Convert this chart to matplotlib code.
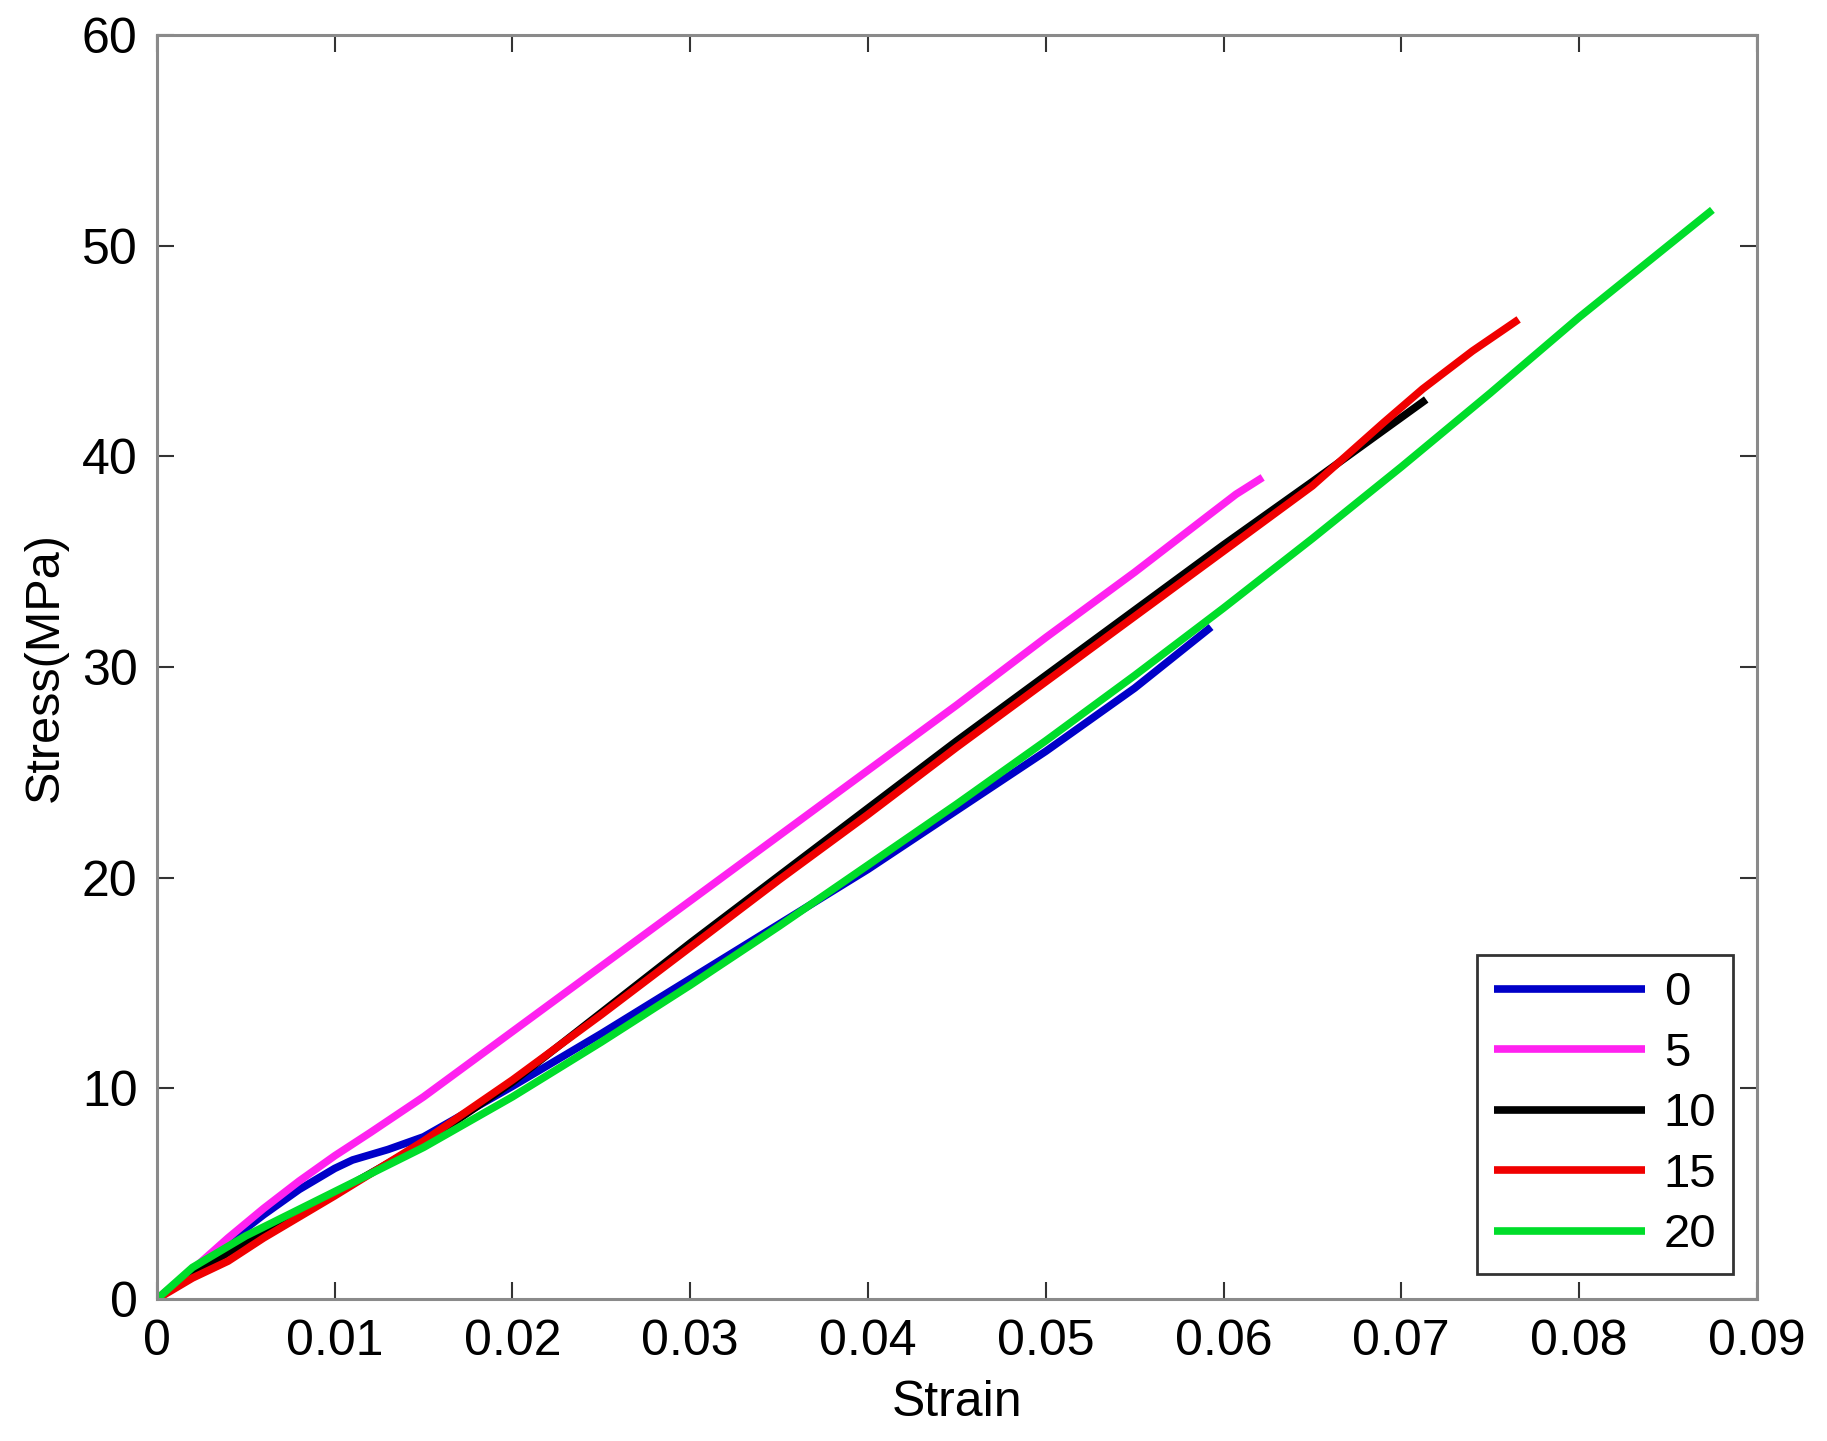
import matplotlib
matplotlib.use("Agg")
import matplotlib.pyplot as plt

plt.rcParams['font.family'] = ['Liberation Sans', 'DejaVu Sans']

labels = ["0", "5", "10", "15", "20"]
colors = ["#0000C8", "#FF22F0", "#000000", "#F00000", "#00DD2A"]

strain_0 = [0, 0.002, 0.004, 0.006, 0.008, 0.010, 0.011, 0.013, 0.015, 0.020, 0.025,
            0.030, 0.035, 0.040, 0.045, 0.050, 0.055, 0.0593]
stress_0 = [0, 1.3, 2.7, 4.0, 5.2, 6.2, 6.6, 7.1, 7.7, 10.1, 12.6,
            15.2, 17.8, 20.4, 23.2, 26.0, 29.0, 31.9]

strain_5 = [0, 0.002, 0.004, 0.006, 0.008, 0.010, 0.012, 0.015, 0.020, 0.025, 0.030,
            0.035, 0.040, 0.045, 0.050, 0.055, 0.057, 0.059, 0.0607, 0.0622]
stress_5 = [0, 1.4, 2.9, 4.3, 5.6, 6.8, 7.9, 9.6, 12.7, 15.8, 18.9,
            22.0, 25.1, 28.2, 31.4, 34.5, 35.8, 37.1, 38.2, 39.0]

strain_10 = [0, 0.002, 0.005, 0.010, 0.015, 0.020, 0.025, 0.030, 0.035, 0.040, 0.045,
             0.050, 0.055, 0.060, 0.065, 0.0714]
stress_10 = [0, 1.2, 2.7, 5.0, 7.4, 10.3, 13.6, 16.9, 20.1, 23.3, 26.5,
             29.6, 32.7, 35.8, 38.8, 42.7]

strain_15 = [0, 0.002, 0.004, 0.006, 0.010, 0.015, 0.020, 0.025, 0.030, 0.035, 0.040,
             0.045, 0.050, 0.055, 0.060, 0.065, 0.069, 0.0712, 0.074, 0.0766]
stress_15 = [0, 1.0, 1.8, 2.9, 4.9, 7.5, 10.4, 13.5, 16.7, 19.9, 23.0,
             26.2, 29.3, 32.4, 35.5, 38.6, 41.6, 43.2, 45.0, 46.5]

strain_20 = [0, 0.002, 0.005, 0.010, 0.015, 0.020, 0.025, 0.030, 0.035, 0.040, 0.045,
             0.050, 0.055, 0.060, 0.065, 0.070, 0.075, 0.080, 0.085, 0.0875]
stress_20 = [0, 1.5, 3.0, 5.1, 7.2, 9.6, 12.2, 14.9, 17.7, 20.6, 23.5,
             26.5, 29.6, 32.8, 36.1, 39.5, 43.0, 46.6, 50.0, 51.7]

series = [(strain_0, stress_0), (strain_5, stress_5), (strain_10, stress_10),
          (strain_15, stress_15), (strain_20, stress_20)]

xticks = [0, 0.01, 0.02, 0.03, 0.04, 0.05, 0.06, 0.07, 0.08, 0.09]
xticklabels = ["0", "0.01", "0.02", "0.03", "0.04", "0.05", "0.06", "0.07", "0.08", "0.09"]
yticks = [0, 10, 20, 30, 40, 50, 60]

fig = plt.figure(figsize=(18.27, 14.41), dpi=100)
ax = fig.add_axes([0.0859, 0.0985, 0.8757, 0.8772])

for (xs, ys), c, lab in zip(series, colors, labels):
    ax.plot(xs, ys, color=c, lw=5.5, label=lab, solid_capstyle='butt')

ax.set_xlim(0, 0.09)
ax.set_ylim(0, 60)
ax.set_xticks(xticks)
ax.set_xticklabels(xticklabels)
ax.set_yticks(yticks)

for s in ax.spines.values():
    s.set_color('#8a8a8a')
    s.set_linewidth(2.2)

ax.tick_params(direction='in', length=12, width=1.5, color='#333333',
               top=True, right=True, labelsize=36, pad=14)

ax.set_xlabel("Strain", fontsize=36, labelpad=11)
ax.set_ylabel("Stress(MPa)", fontsize=35, labelpad=10)

leg = ax.legend(loc='lower right', bbox_to_anchor=(0.985, 0.02), borderaxespad=0,
                fontsize=34, handlelength=3.2, handletextpad=0.4, labelspacing=0.35,
                borderpad=0.35, frameon=True, fancybox=False)
leg.get_frame().set_edgecolor('black')
leg.get_frame().set_linewidth(2)

fig.savefig("out.png", dpi=100)
